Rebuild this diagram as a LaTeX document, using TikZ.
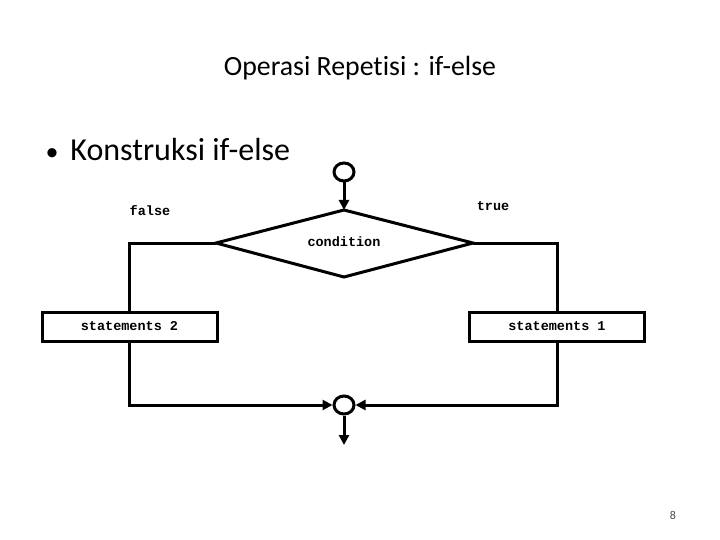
\documentclass[tikz,border=0pt]{standalone}
\usepackage{fontspec}
\setmainfont{Carlito}[Ligatures={NoCommon}]
\newfontfamily\codefont{Liberation Mono}
\usetikzlibrary{shapes.geometric,arrows.meta}
\begin{document}
\begin{tikzpicture}[x=1pt,y=-1pt,
  line width=3pt,
  flow/.style={line width=3pt,-{Triangle[length=10pt,width=10pt]}},
  plain/.style={line width=3pt},
  codetext/.style={font=\codefont\bfseries\fontsize{13.5}{15}\selectfont, inner sep=0pt},
  stmtbox/.style={draw,line width=3pt,minimum width=175pt,minimum height=29pt,inner sep=0pt,font=\codefont\bfseries\fontsize{13.5}{15}\selectfont},
  junction/.style={draw,line width=3pt,ellipse,inner sep=0pt},
]
\useasboundingbox (0,0) rectangle (720,540);
% titles
\node[anchor=center,font=\fontsize{27.8}{32}\selectfont,inner sep=0pt] (title) at (360,68) {Operasi Repetisi : if-else};
\node[anchor=west,font=\fontsize{32}{36}\selectfont,inner sep=0pt] (bullet) at (44,150) {\fontsize{26}{30}\selectfont•\hspace{12pt}\fontsize{32}{36}\selectfont Konstruksi if-else};
\node[font=\fontsize{12}{14}\selectfont,text=black!70,inner sep=0pt] (page) at (673,515) {8};
% start circle
\node[junction,minimum width=20pt,minimum height=18pt] (start) at (344,172) {};
% diamond
\coordinate (dtop) at (344,210);
\coordinate (dleft) at (216,243);
\coordinate (dright) at (473,243);
\coordinate (dbot) at (344,277);
\draw[plain,line join=miter] (dtop) -- (dright) -- (dbot) -- (dleft) -- cycle;
\node[codetext] (cond) at (344,242) {condition};
\node[codetext] (false) at (150,211) {false};
\node[codetext] (true) at (493,206) {true};
% boxes
\node[stmtbox] (s2) at (129.5,326.5) {statements 2};
\node[stmtbox] (s1) at (557,326.5) {statements 1};
% end circle
\node[junction,minimum width=20pt,minimum height=18pt] (join) at (344,405) {};
\coordinate (exit) at (344,445);
% connectors
\draw[flow] (start.south) -- (dtop);
\draw[plain] (dleft) -| (s2.north);
\draw[plain] (dright) -| (s1.north);
\draw[flow] (s2.south) |- (join.west);
\draw[flow] (s1.south) |- (join.east);
\draw[flow] (join.south) -- (exit);
\end{tikzpicture}
\end{document}
